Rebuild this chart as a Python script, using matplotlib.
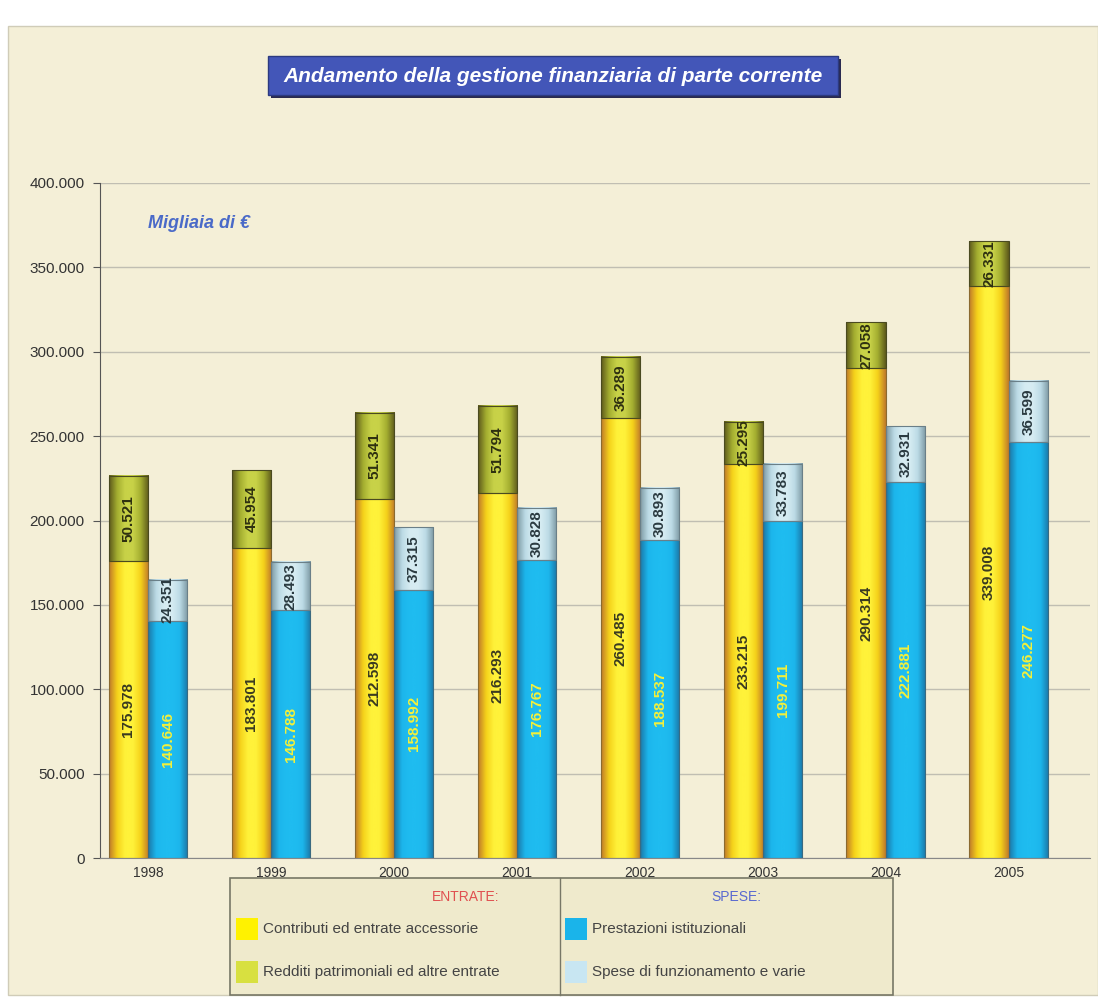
import numpy as np
import matplotlib
matplotlib.use("Agg")
import matplotlib.pyplot as plt
from matplotlib.patches import Rectangle
from matplotlib.colors import LinearSegmentedColormap
from matplotlib.ticker import FuncFormatter, MultipleLocator

# ---------------- data ----------------
years = ["1998", "1999", "2000", "2001", "2002", "2003", "2004", "2005"]
contributi = [175978, 183801, 212598, 216293, 260485, 233215, 290314, 339008]
redditi = [50521, 45954, 51341, 51794, 36289, 25295, 27058, 26331]
prestazioni = [140646, 146788, 158992, 176767, 188537, 199711, 222881, 246277]
spese_funz = [24351, 28493, 37315, 30828, 30893, 33783, 32931, 36599]

title = "Andamento della gestione finanziaria di parte corrente"
unit_label = "Migliaia di €"
legend_entrate = ["Contributi ed entrate accessorie", "Redditi patrimoniali ed altre entrate"]
legend_spese = ["Prestazioni istituzionali", "Spese di funzionamento e varie"]

FONT = ["Liberation Sans Narrow", "Liberation Sans", "DejaVu Sans"]
SANS = ["Liberation Sans", "DejaVu Sans"]
plt.rcParams["font.family"] = FONT

fig = plt.figure(figsize=(10.98, 9.99), dpi=100, facecolor="white")
# beige panel
fig.patches.append(Rectangle((8 / 1098, 4 / 999), 1 - 8 / 1098, (999 - 30) / 999,
                             transform=fig.transFigure, facecolor="#f4efd7",
                             edgecolor="#d0ccb8", lw=1.0, zorder=-5))

ax = fig.add_axes([100 / 1098, 1 - 858 / 999, 990 / 1098, 675 / 999])
ax.set_facecolor("none")
ax.set_zorder(1)

x = np.arange(len(years))
w = 0.32

cm_yel = LinearSegmentedColormap.from_list("y", ["#c07a2a", "#f5d21a", "#fff23a", "#fff23a", "#f5d21a", "#c07a2a"])
cm_grn = LinearSegmentedColormap.from_list("g", ["#5e5a1c", "#a4ae30", "#c8d248", "#c8d248", "#a4ae30", "#5e5a1c"])
cm_blu = LinearSegmentedColormap.from_list("b", ["#1b78a8", "#1cb6ec", "#1fbcf0", "#1fbcf0", "#1cb6ec", "#1b78a8"])
cm_lbl = LinearSegmentedColormap.from_list("l", ["#7e9aa4", "#bcdbe6", "#d6ecf2", "#d6ecf2", "#bcdbe6", "#7e9aa4"])

grad = np.linspace(0, 1, 64).reshape(1, -1)

def shade(bars, cmap, edge):
    for b in bars:
        x0, y0 = b.get_x(), b.get_y()
        bw, bh = b.get_width(), b.get_height()
        ax.imshow(grad, cmap=cmap, aspect="auto", extent=(x0, x0 + bw, y0, y0 + bh),
                  zorder=2, interpolation="bicubic")
        ax.add_patch(Rectangle((x0, y0), bw, bh, fill=False, edgecolor=edge, lw=0.8, zorder=3))

b1 = ax.bar(x - w / 2, contributi, w, color="#fff23a", zorder=1)
b2 = ax.bar(x - w / 2, redditi, w, bottom=contributi, color="#b8c23c", zorder=1)
b3 = ax.bar(x + w / 2, prestazioni, w, color="#1fbcf0", zorder=1)
b4 = ax.bar(x + w / 2, spese_funz, w, bottom=prestazioni, color="#c8e4ee", zorder=1)
shade(b1, cm_yel, "#8a6a30")
shade(b2, cm_grn, "#4a4a20")
shade(b3, cm_blu, "#3a6a80")
shade(b4, cm_lbl, "#6a7f88")

def fmt(v):
    return f"{v:,}".replace(",", ".")

for bars, vals, col in [(b1, contributi, "#3a3a20"), (b2, redditi, "#2e3010"),
                        (b3, prestazioni, "#f4f03a"), (b4, spese_funz, "#2a3a40")]:
    for b, v in zip(bars, vals):
        ax.text(b.get_x() + b.get_width() / 2, b.get_y() + b.get_height() / 2, fmt(v),
                rotation=90, ha="center", va="center", fontsize=11, color=col,
                fontweight="semibold", zorder=5, clip_on=True)

ax.set_xlim(-0.39, 7.66)
ax.set_ylim(0, 400000)
ax.yaxis.set_major_locator(MultipleLocator(50000))
ax.yaxis.set_major_formatter(FuncFormatter(lambda v, p: fmt(int(v))))
ax.grid(axis="y", color="#c0beb2", lw=1.0, zorder=0)
ax.set_axisbelow(True)
for s in ["top", "right"]:
    ax.spines[s].set_visible(False)
ax.spines["left"].set_color("#555555")
ax.spines["bottom"].set_color("#888888")
ax.tick_params(axis="y", length=5, color="#555555", labelsize=11, labelcolor="#333333", pad=6)
for t in ax.get_yticklabels():
    t.set_family(SANS)
ax.set_xticks(x)
ax.set_xticklabels(years, fontsize=10, color="#333333", family=SANS)
ax.tick_params(axis="x", length=0, pad=6)

fig.text(148 / 1098, 1 - 224 / 999, unit_label, fontsize=13, color="#4a6ac8",
         fontstyle="italic", fontweight="bold", va="center", ha="left", family=SANS)

# title box
fig.patches.append(Rectangle((271 / 1098, 1 - 98 / 999), 570 / 1098, 39 / 999,
                             transform=fig.transFigure, facecolor="#2a2a50", edgecolor="none", zorder=1))
fig.patches.append(Rectangle((268 / 1098, 1 - 95 / 999), 570 / 1098, 39 / 999,
                             transform=fig.transFigure, facecolor="#4356b8", edgecolor="#2c3a80",
                             lw=1, zorder=2))
fig.text(553 / 1098, 1 - 76 / 999, title, ha="center", va="center", fontsize=15,
         color="white", fontweight="bold", fontstyle="italic", zorder=3, family=SANS)

# legend box
L, R, T, B = 230, 893, 878, 995
mid = 560
fig.patches.append(Rectangle((L / 1098, 1 - B / 999), (R - L) / 1098, (B - T) / 999,
                             transform=fig.transFigure, facecolor="#efeacc", edgecolor="#777766",
                             lw=1.2, zorder=1))
fig.add_artist(plt.Line2D([mid / 1098, mid / 1098], [1 - B / 999, 1 - T / 999],
                          transform=fig.transFigure, color="#777766", lw=1.0, zorder=2))
fig.text(466 / 1098, 1 - 897 / 999, "ENTRATE:", ha="center", va="center", fontsize=10,
         color="#e05050", family=SANS)
fig.text(736 / 1098, 1 - 897 / 999, "SPESE:", ha="center", va="center", fontsize=10,
         color="#5a6ad0", family=SANS)
items = [(236, 929, "#fff200", legend_entrate[0]), (236, 972, "#d8e040", legend_entrate[1]),
         (565, 929, "#1ab4ea", legend_spese[0]), (565, 972, "#c8e6f2", legend_spese[1])]
for px, py, col, lab in items:
    fig.patches.append(Rectangle((px / 1098, 1 - (py + 11) / 999), 22 / 1098, 22 / 999,
                                 transform=fig.transFigure, facecolor=col, edgecolor="none", zorder=3))
    fig.text((px + 27) / 1098, 1 - py / 999, lab, ha="left", va="center", fontsize=11,
             color="#444444", family=SANS)

fig.savefig("out.png", dpi=100, facecolor=fig.get_facecolor())
